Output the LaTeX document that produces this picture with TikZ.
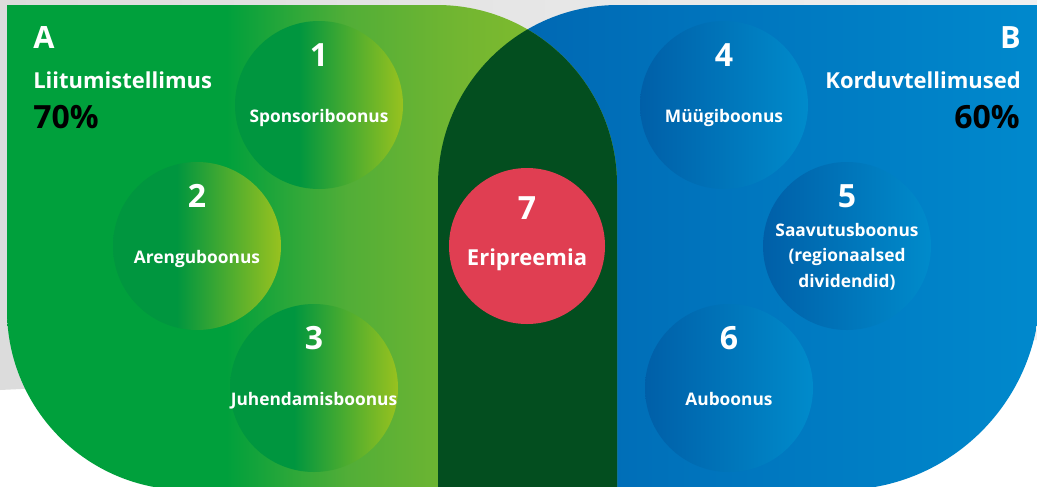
\documentclass[tikz,border=0pt]{standalone}
\usepackage{fontspec}
\setmainfont{Open Sans}
\usepackage{tikz}
\definecolor{bgGrey}{HTML}{DCDCDC}
\definecolor{bgLight}{HTML}{F0F0F0}
\definecolor{lobeGreen}{HTML}{00A03C}
\definecolor{lobeMid}{HTML}{52AE37}
\definecolor{lobeMidB}{HTML}{72B631}
\definecolor{lobeLime}{HTML}{8CBF2B}
\definecolor{ballGreen}{HTML}{00963F}
\definecolor{ballLime}{HTML}{98C21F}
\definecolor{lobeBlue}{HTML}{0063AF}
\definecolor{lobeSky}{HTML}{0089CD}
\definecolor{ballBlue}{HTML}{005FA8}
\definecolor{ballSky}{HTML}{008BCB}
\definecolor{coreGreen}{HTML}{034E1F}
\definecolor{prizeRed}{HTML}{E03E52}
\pgfdeclarehorizontalshading{greenLobe}{100bp}{color(0bp)=(lobeGreen); color(43bp)=(lobeGreen); color(53bp)=(lobeMid); color(62bp)=(lobeMidB); color(75bp)=(lobeLime); color(100bp)=(lobeLime)}
\pgfdeclarehorizontalshading{blueLobe}{100bp}{color(0bp)=(lobeBlue); color(25bp)=(lobeBlue); color(75bp)=(lobeSky); color(100bp)=(lobeSky)}
\pgfdeclarehorizontalshading{greenBall}{100bp}{color(0bp)=(ballGreen); color(44bp)=(ballGreen); color(75bp)=(ballLime); color(100bp)=(ballLime)}
\pgfdeclarehorizontalshading{blueBall}{100bp}{color(0bp)=(ballBlue); color(25bp)=(ballBlue); color(75bp)=(ballSky); color(100bp)=(ballSky)}
\newcommand{\GreenLobe}{(7,5) -- (437,5) arc[start angle=-90, end angle=0, radius=180] -- (617,490) -- (187,490) arc[start angle=90, end angle=180, radius=180] -- cycle}
\newcommand{\BlueLobe}{(1040,5) -- (618,5) arc[start angle=-90, end angle=-180, radius=180] -- (438,490) -- (840,490) arc[start angle=90, end angle=0, radius=200] -- cycle}
\newcommand{\DrawBall}[7]{
    \node[ball, shade, shading=#4] (#1) at (#2,#3) {};
    \node[numText] (#1Num) at (#2,#3-39) {#5};
    \node[ballText] (#1Text) at (#2,#3+#7) {#6};
}

\begin{document}
\begin{tikzpicture}[x=0.75pt, y=-0.75pt,
    ball/.style={circle, inner sep=0pt, minimum size=126pt},
    numText/.style={anchor=base, inner sep=0pt, text=white, font=\bfseries\fontsize{24}{28}\selectfont},
    ballText/.style={anchor=base, inner sep=0pt, text=white, align=center, font=\bfseries\fontsize{13}{19}\selectfont},
    headText/.style={inner sep=0pt, text=white, font=\bfseries\fontsize{16.5}{20}\selectfont},
    bigText/.style={inner sep=0pt, font=\bfseries\fontsize{24}{28}\selectfont}]
        \useasboundingbox (0,0) rectangle (1037,486);
        \clip (0,0) rectangle (1037,486);
        \fill[white] (0,0) rectangle (1037,486);
        \shade[left color=bgGrey, right color=bgLight] (0,0) -- (1037,0) -- (1037,340) -- (0,390) -- cycle;

        % Lobes
        \shade[shading=blueLobe] \BlueLobe;
        \shade[shading=greenLobe] \GreenLobe;
        \begin{scope}
            \clip \GreenLobe;
            \fill[coreGreen] \BlueLobe;
        \end{scope}

        % Side A
        \node[headText, font=\bfseries\fontsize{23}{28}\selectfont, anchor=base west] (sideA) at (33,48) {A};
        \node[headText, anchor=base west] (joinOrder) at (33,88) {Liitumistellimus};
        \node[bigText, anchor=base west] (joinPct) at (33,128) {70\%};
        \DrawBall{ballOne}{319}{105}{greenBall}{1}{Sponsoriboonus}{17}
        \DrawBall{ballTwo}{197}{246}{greenBall}{2}{Arenguboonus}{17}
        \DrawBall{ballThree}{314}{388}{greenBall}{3}{Juhendamisboonus}{17}

        % Side B
        \node[headText, font=\bfseries\fontsize{23}{28}\selectfont, anchor=base east] (sideB) at (1021,48) {B};
        \node[headText, anchor=base east] (repeatOrder) at (1021,88) {Korduvtellimused};
        \node[bigText, anchor=base east] (repeatPct) at (1020,128) {60\%};
        \DrawBall{ballFour}{724}{105}{blueBall}{4}{Müügiboonus}{17}
        \DrawBall{ballFive}{847}{246}{blueBall}{5}{Saavutusboonus\\(regionaalsed\\dividendid)}{41}
        \DrawBall{ballSix}{729}{388}{blueBall}{6}{Auboonus}{17}

        % Middle
        \node[ball, fill=prizeRed, minimum size=117pt] (ballSeven) at (527,246) {};
        \node[numText] (ballSevenNum) at (527,219) {7};
        \node[headText, anchor=base] (ballSevenText) at (527,265) {Eripreemia};
    \end{tikzpicture}
\end{document}
